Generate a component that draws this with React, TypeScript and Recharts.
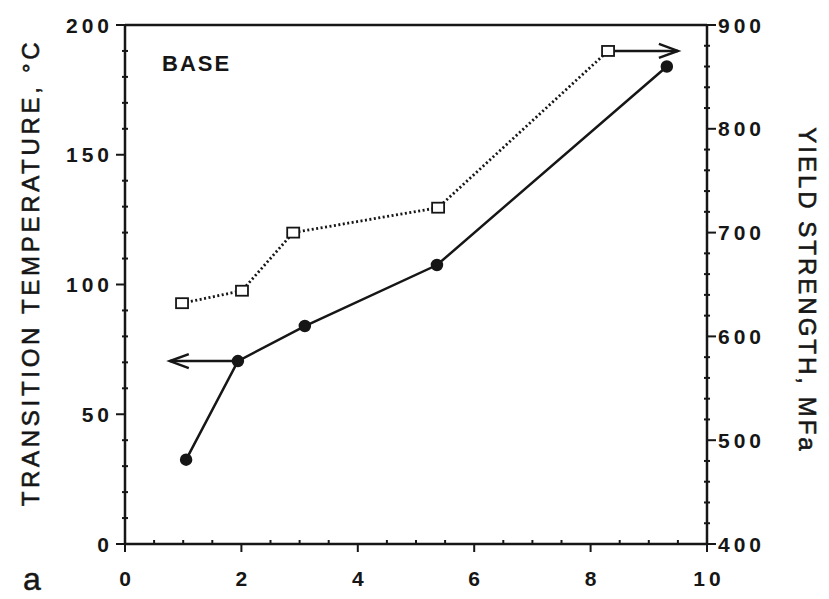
import { LineChart, Line, XAxis, YAxis, ReferenceLine } from 'recharts'

// ── Data ───────────────────────────────────────────────────────────────────

const tempX = [1.05, 1.94, 3.09, 5.36, 9.31]
const transitionTemp = [32.5, 70.5, 84, 107.5, 184]

const yieldX = [0.98, 2.01, 2.89, 5.38, 8.3]
const yieldStrength = [632, 644, 700, 724, 875]

// arrows that tell which axis each curve belongs to
const tempArrowX = [1.94, 0.77]
const tempArrowLevel = 70.5
const yieldArrowX = [8.3, 9.5]
const yieldArrowLevel = 875

// ── Axis ticks ─────────────────────────────────────────────────────────────

const xTicks = [0, 0.5, 1, 1.5, 2, 2.5, 3, 3.5, 4, 4.5, 5, 5.5, 6, 6.5, 7, 7.5, 8, 8.5, 9, 9.5, 10]
const xLabels = [0, 2, 4, 6, 8, 10]
const tempTicks = [0, 10, 20, 30, 40, 50, 60, 70, 80, 90, 100, 110, 120, 130, 140, 150, 160, 170, 180, 190, 200]
const tempLabels = [0, 50, 100, 150, 200]
const yieldTicks = [400, 420, 440, 460, 480, 500, 520, 540, 560, 580, 600, 620, 640, 660, 680, 700, 720, 740, 760, 780, 800, 820, 840, 860, 880, 900]
const yieldLabels = [400, 500, 600, 700, 800, 900]

const tempPoints = tempX.map((x, i) => ({ x, t: transitionTemp[i] }))
const yieldPoints = yieldX.map((x, i) => ({ x, s: yieldStrength[i] }))
const tempArrow = tempArrowX.map(x => ({ x, t: tempArrowLevel }))
const yieldArrow = yieldArrowX.map(x => ({ x, s: yieldArrowLevel }))

const INK = '#161616'
const FONT = '"Liberation Sans", Arial, Helvetica, sans-serif'

// ── Tick renderers ─────────────────────────────────────────────────────────

function LeftTick({ x, y, payload }: any) {
  const major = tempLabels.includes(payload.value)
  return (
    <g>
      {major
        ? <line x1={x - 9} y1={y} x2={x} y2={y} stroke={INK} strokeWidth={2} />
        : <line x1={x - 3} y1={y} x2={x + 3} y2={y} stroke={INK} strokeWidth={2} />}
      {major && (
        <text x={x - 12} y={y} dy="0.36em" textAnchor="end" fontFamily={FONT}
          fontSize={21} fontWeight={700} letterSpacing={4} fill={INK}>
          {payload.value}
        </text>
      )}
    </g>
  )
}

function RightTick({ x, y, payload }: any) {
  const major = yieldLabels.includes(payload.value)
  return (
    <g>
      {major
        ? <line x1={x} y1={y} x2={x + 9} y2={y} stroke={INK} strokeWidth={2} />
        : <line x1={x - 3} y1={y} x2={x + 3} y2={y} stroke={INK} strokeWidth={2} />}
      {major && (
        <text x={x + 11} y={y} dy="0.36em" textAnchor="start" fontFamily={FONT}
          fontSize={21} fontWeight={700} letterSpacing={4} fill={INK}>
          {payload.value}
        </text>
      )}
    </g>
  )
}

function BottomTick({ x, y, payload }: any) {
  const major = xLabels.includes(payload.value)
  return (
    <g>
      {major
        ? <line x1={x} y1={y} x2={x} y2={y + 8} stroke={INK} strokeWidth={2} />
        : <line x1={x} y1={y - 4} x2={x} y2={y} stroke={INK} strokeWidth={2} />}
      {major && (
        <text x={x + 2} y={y + 34} dy="0.36em" textAnchor="middle" fontFamily={FONT}
          fontSize={21} fontWeight={700} letterSpacing={4} fill={INK}>
          {payload.value}
        </text>
      )}
    </g>
  )
}

// ── Markers ────────────────────────────────────────────────────────────────

function SquareDot({ cx, cy, index }: any) {
  return <rect key={`sq-${index}`} x={cx - 6} y={cy - 5} width={12} height={10}
    fill="#fff" stroke={INK} strokeWidth={1.8} />
}

const arrowHead = (dir: number) => ({ cx, cy, index }: any) => {
  if (index === 0) return <g key={`a-${index}`} />
  return (
    <path key={`a-${index}`} d={`M${cx - dir * 19},${cy - 7} L${cx},${cy} L${cx - dir * 19},${cy + 7}`}
      fill="none" stroke={INK} strokeWidth={2.5} />
  )
}

// ── Titles ─────────────────────────────────────────────────────────────────

const leftTitle = ({ viewBox }: any) => {
  const cx = viewBox.x + 30
  const cy = viewBox.y + viewBox.height / 2 - 12
  return (
    <text x={cx} y={cy} transform={`rotate(-90 ${cx} ${cy})`} textAnchor="middle" dy="0.36em"
      fontFamily={FONT} fontSize={24} letterSpacing={3.7} fill={INK} stroke={INK} strokeWidth={0.6}>
      TRANSITION TEMPERATURE, °C
    </text>
  )
}

const rightTitle = ({ viewBox }: any) => {
  const cx = viewBox.x + 101
  const cy = viewBox.y + viewBox.height / 2 + 6
  return (
    <text x={cx} y={cy} transform={`rotate(90 ${cx} ${cy})`} textAnchor="middle" dy="0.36em"
      fontFamily={FONT} fontSize={24} letterSpacing={3} fill={INK} stroke={INK} strokeWidth={0.6}>
      YIELD STRENGTH, MFa
    </text>
  )
}

const panelLetter = ({ viewBox }: any) => (
  <text x={viewBox.x - 93} y={viewBox.y + 34} dy="0.36em" textAnchor="middle"
    fontFamily={FONT} fontSize={32} fill={INK} stroke={INK} strokeWidth={0.5}>a</text>
)

const baseTag = ({ viewBox }: any) => (
  <text x={viewBox.x + 37} y={viewBox.y + 46} fontFamily={FONT} fontSize={22}
    fontWeight={700} letterSpacing={2} fill={INK}>BASE</text>
)

export default function App() {
  return (
    <div style={{ position: 'absolute', left: 0, top: 0, background: '#fff' }}>
      <LineChart width={829} height={599} margin={{ top: 25, right: 0, left: 0, bottom: 0 }}>
        <XAxis type="number" dataKey="x" domain={[0, 10]} ticks={xTicks} interval={0}
          height={55} tickSize={0} tickMargin={0} tickLine={false} tick={BottomTick}
          axisLine={{ stroke: INK, strokeWidth: 2.5 }} label={panelLetter} />
        <YAxis yAxisId="left" domain={[0, 200]} ticks={tempTicks} interval={0} width={125}
          tickSize={0} tickMargin={0} tickLine={false} tick={LeftTick}
          axisLine={{ stroke: INK, strokeWidth: 2.5 }} label={leftTitle} />
        <YAxis yAxisId="right" orientation="right" domain={[400, 900]} ticks={yieldTicks} interval={0}
          width={122} tickSize={0} tickMargin={0} tickLine={false} tick={RightTick}
          axisLine={{ stroke: INK, strokeWidth: 2.5 }} label={rightTitle} />
        <ReferenceLine yAxisId="left" y={200} stroke={INK} strokeWidth={2.5} label={baseTag} />

        <Line yAxisId="left" data={tempPoints} dataKey="t" stroke={INK} strokeWidth={2.5}
          dot={{ r: 5, fill: INK, stroke: INK }} isAnimationActive={false} />
        <Line yAxisId="right" data={yieldPoints} dataKey="s" stroke={INK} strokeWidth={2.8}
          strokeDasharray="2 2.5" dot={SquareDot} isAnimationActive={false} />
        <Line yAxisId="left" data={tempArrow} dataKey="t" stroke={INK} strokeWidth={2.5}
          dot={arrowHead(-1)} isAnimationActive={false} />
        <Line yAxisId="right" data={yieldArrow} dataKey="s" stroke={INK} strokeWidth={2.5}
          dot={arrowHead(1)} isAnimationActive={false} />
      </LineChart>
    </div>
  )
}
